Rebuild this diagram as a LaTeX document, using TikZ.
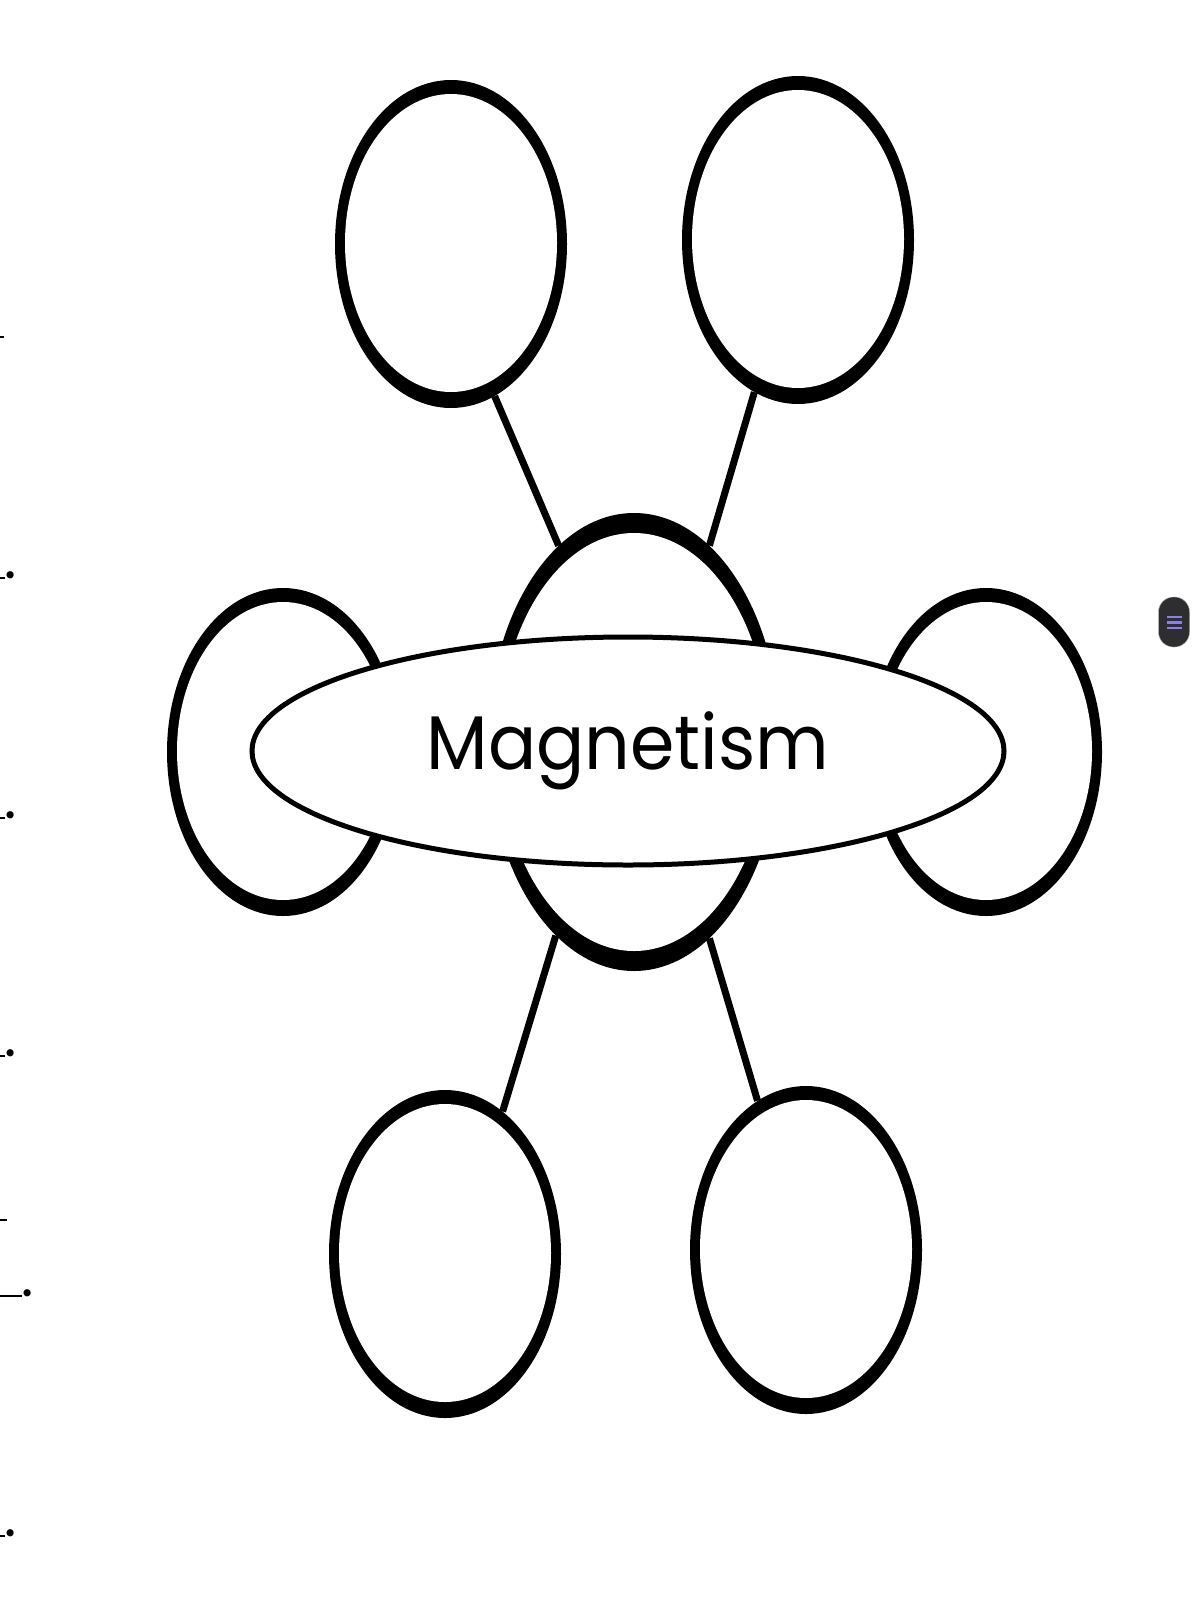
\documentclass[tikz,border=0pt]{standalone}
\usepackage{fontspec}
\setmainfont{Poppins}
\usetikzlibrary{shapes.geometric}
\definecolor{pill}{HTML}{2E2E30}
\definecolor{pillline}{HTML}{8C7FE6}
\begin{document}
\begin{tikzpicture}[x=1pt,y=-1pt,
  bubble/.style={ellipse, fill=black, draw=none, inner sep=0pt, minimum width=232pt, minimum height=328pt},
  hole/.style={fill=white},
  link/.style={line width=7pt, line cap=butt},
  edgemark/.style={anchor=base east, inner sep=0pt, font=\fontsize{58}{58}\selectfont}]
\useasboundingbox (0,0) rectangle (1200,1600);
\clip (0,0) rectangle (1200,1600);
\fill[white] (0,0) rectangle (1200,1600);

% outer bubbles
\node[bubble] (tl) at (451,244) {};
\fill[hole] (451,243) ellipse [x radius=106, y radius=149];
\node[bubble] (tr) at (798,240) {};
\fill[hole] (798,239) ellipse [x radius=106, y radius=149];
\node[bubble] (l) at (283,752) {};
\fill[hole] (283,751) ellipse [x radius=106, y radius=149];
\node[bubble] (r) at (986,752) {};
\fill[hole] (986,751) ellipse [x radius=106, y radius=149];
\node[bubble] (bl) at (445,1254) {};
\fill[hole] (445,1253) ellipse [x radius=106, y radius=149];
\node[bubble] (br) at (806,1250) {};
\fill[hole] (806,1249) ellipse [x radius=106, y radius=149];

% central bubble
\node[bubble, minimum width=292pt, minimum height=458pt] (c) at (634,742) {};
\fill[hole] (634,742) ellipse [x radius=135, y radius=209];

% connectors
\draw[link] (tl.-74.5) -- (c.111.4);
\draw[link] (tr.254.3) -- (c.69.2);
\draw[link] (c.248.9) -- (bl.68.2);
\draw[link] (c.-69.1) -- (br.108.3);

% main label ellipse
\node[ellipse, draw, line width=5pt, fill=white, inner sep=0pt,
      minimum width=752pt, minimum height=228pt,
      font=\fontsize{76}{78}\selectfont] (main) at (628,751) {\scalebox{0.94}[1]{Magnetism}};

% cut-off marks at the left edge
\node[edgemark] (m1) at (4,350) {\rule[12pt]{30pt}{2pt}};
\node[edgemark] (m2) at (17,578) {\rule[-1pt]{30pt}{2.5pt}.};
\node[edgemark] (m3) at (17,818) {\rule[-1pt]{30pt}{2.5pt}.};
\node[edgemark] (m4) at (17,1056) {\rule[-1pt]{30pt}{2.5pt}.};
\node[edgemark] (m5) at (7,1221) {\rule{30pt}{2pt}};
\node[edgemark] (m6) at (34,1296) {\rule[-1pt]{40pt}{2.5pt}.};
\node[edgemark] (m7) at (17,1536) {\rule[-1pt]{30pt}{2.5pt}.};

% scroll handle
\node[draw=gray!60, fill=pill, rounded corners=15pt, minimum width=31pt,
      minimum height=50pt, inner sep=0pt] (scroll) at (1174,622) {};
\draw[pillline, line width=2.3pt] (1167,617) -- (1182,617)
      (1167,622.5) -- (1182,622.5) (1167,628) -- (1182,628);
\end{tikzpicture}
\end{document}
